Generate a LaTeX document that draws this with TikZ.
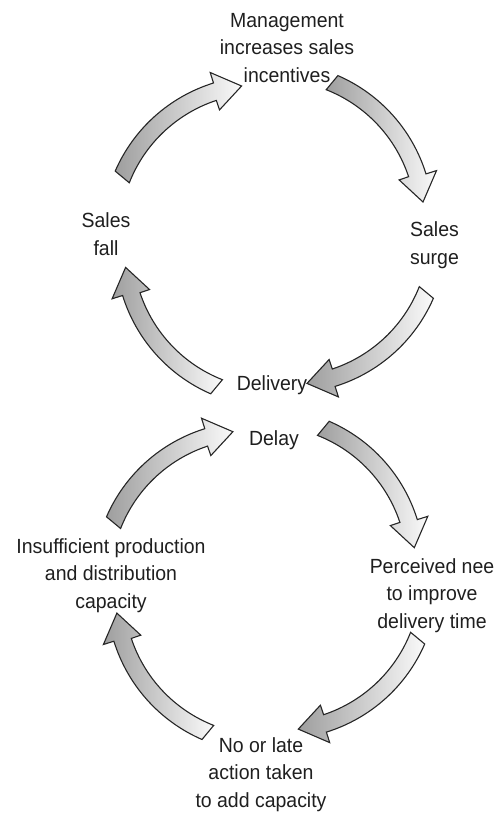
\documentclass[tikz,border=0pt]{standalone}
\usepackage{fontspec}
\setmainfont[FakeStretch=0.95]{Liberation Sans}

\begin{document}
\begin{tikzpicture}[
    x=1pt, y=-1pt,
    every node/.style={font=\fontsize{20.5}{27.5}\selectfont, text=black!88, align=center, inner sep=0pt, anchor=base},
    cycarrow/.style={draw=black!85, line width=1.1pt, line join=miter, left color=black!38, right color=black!2}
]
\useasboundingbox (0,0) rectangle (495,814);

% ── curved block arrows: one shape, turned round each loop centre ──
\foreach \cx/\cy/\rot [count=\i] in {274.3/234.7/0, 274.3/234.7/-90, 274.3/234.7/-180, 274.3/234.7/-270,
                                     265.6/580.4/0, 265.6/580.4/-90, 265.6/580.4/-180, 265.6/580.4/-270} {
  \begin{scope}[shift={(\cx,\cy)}, rotate=\rot]
    \coordinate (to\i)  at (-159.1,-63.6);
    \coordinate (oa\i)  at (-140.7,-105.9);
    \coordinate (ob\i)  at (-104.9,-138.0);
    \coordinate (jo\i)  at (-60.8,-151.7);
    \coordinate (bo\i)  at (-64.1,-162.2);
    \coordinate (tip\i) at (-32.7,-148.7);
    \coordinate (bi\i)  at (-54.8,-124.8);
    \coordinate (ji\i)  at (-58.0,-134.3);
    \coordinate (ia\i)  at (-97.8,-121.1);
    \coordinate (ib\i)  at (-129.7,-90.9);
    \coordinate (ti\i)  at (-145.0,-51.9);
  \end{scope}
  \draw[cycarrow] (to\i) .. controls (oa\i) and (ob\i) .. (jo\i) -- (bo\i) -- (tip\i)
        -- (bi\i) -- (ji\i) .. controls (ia\i) and (ib\i) .. (ti\i) -- cycle;
}

% ── upper loop (base = last line) ──
\node (mgmt)     at (287,82)    {Management\\increases sales\\incentives};
\node (surge)    at (434.5,264) {Sales\\surge};
\node (delivery) at (272,390)   {Delivery};
\node (fall)     at (106,255)   {Sales\\fall};

% ── lower loop ──
\node (delay)    at (274,445)   {Delay};
\node (need)     at (432,628)   {Perceived nee\\to improve\\delivery time};
\node (late)     at (261,807)   {No or late\\action taken\\to add capacity};
\node (short)    at (111,608)   {Insufficient production\\and distribution\\capacity};

\end{tikzpicture}
\end{document}
